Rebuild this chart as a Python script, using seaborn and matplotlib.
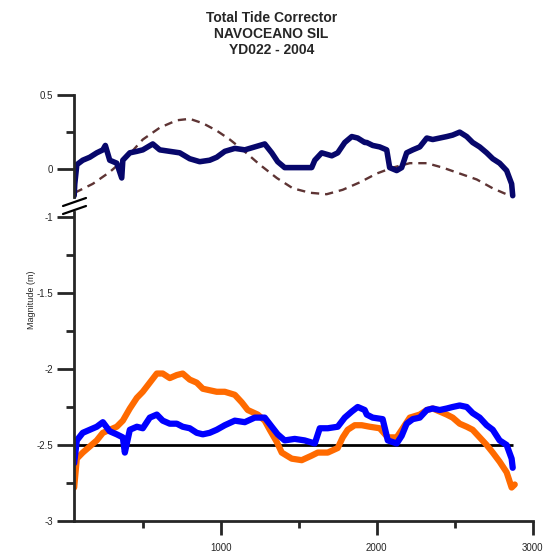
import matplotlib
matplotlib.use("Agg")
import matplotlib.pyplot as plt
from matplotlib.lines import Line2D
import seaborn as sns

sns.set_style("ticks")
plt.rcParams['font.family'] = ['Liberation Sans', 'DejaVu Sans']

# values
navy_x = [60, 64, 77, 115, 160, 205, 244, 260, 288, 333, 365, 372, 417, 462, 500, 564, 609,
          673, 737, 801, 865, 929, 974, 1026, 1090, 1154, 1218, 1282, 1327, 1365, 1410,
          1455, 1519, 1583, 1603, 1647, 1712, 1750, 1795, 1840, 1878, 1923, 1936, 1974,
          2019, 2064, 2083, 2128, 2160, 2192, 2231, 2276, 2321, 2359, 2404, 2449, 2487,
          2532, 2577, 2615, 2660, 2705, 2744, 2788, 2833, 2865, 2872]
navy_y = [-0.18, -0.10, 0.03, 0.06, 0.08, 0.11, 0.13, 0.16, 0.06, 0.04, -0.06, 0.06, 0.11,
          0.12, 0.13, 0.17, 0.13, 0.12, 0.11, 0.07, 0.05, 0.06, 0.08, 0.12, 0.14, 0.13,
          0.15, 0.17, 0.11, 0.05, 0.01, 0.01, 0.01, 0.01, 0.06, 0.11, 0.09, 0.11, 0.18,
          0.22, 0.21, 0.18, 0.18, 0.16, 0.15, 0.13, 0.01, -0.01, 0.01, 0.11, 0.13, 0.15,
          0.21, 0.20, 0.21, 0.22, 0.23, 0.25, 0.22, 0.18, 0.15, 0.11, 0.07, 0.04, -0.01,
          -0.10, -0.18]

model_x = [64, 179, 288, 397, 500, 609, 718, 801, 885, 974, 1058, 1141, 1250, 1359, 1462,
           1571, 1679, 1782, 1891, 2000, 2103, 2212, 2321, 2423, 2532, 2641, 2744, 2853]
model_y = [-0.16, -0.10, -0.02, 0.08, 0.20, 0.28, 0.33, 0.34, 0.31, 0.26, 0.20, 0.13, 0.03,
           -0.06, -0.13, -0.16, -0.17, -0.14, -0.09, -0.03, 0.01, 0.04, 0.04, 0.01, -0.03,
           -0.07, -0.13, -0.18]

orange_x = [60, 77, 115, 160, 205, 244, 288, 333, 372, 417, 462, 500, 545, 590, 628, 673,
            718, 756, 801, 846, 885, 929, 974, 1026, 1090, 1135, 1173, 1237, 1282, 1314,
            1359, 1391, 1455, 1519, 1583, 1622, 1686, 1750, 1782, 1814, 1859, 1904, 1955,
            2019, 2071, 2128, 2167, 2212, 2276, 2321, 2359, 2404, 2449, 2487, 2532, 2577,
            2615, 2660, 2705, 2744, 2788, 2833, 2865, 2885]
orange_y = [-2.78, -2.59, -2.55, -2.51, -2.47, -2.42, -2.40, -2.38, -2.34, -2.26, -2.19,
            -2.15, -2.09, -2.03, -2.03, -2.06, -2.04, -2.03, -2.07, -2.09, -2.13, -2.14,
            -2.15, -2.15, -2.17, -2.22, -2.27, -2.30, -2.34, -2.40, -2.48, -2.55, -2.59,
            -2.60, -2.57, -2.55, -2.55, -2.52, -2.45, -2.40, -2.37, -2.37, -2.38, -2.39,
            -2.45, -2.45, -2.39, -2.32, -2.30, -2.27, -2.26, -2.28, -2.30, -2.32, -2.36,
            -2.38, -2.40, -2.45, -2.50, -2.55, -2.61, -2.68, -2.78, -2.76]

blue_x = [60, 77, 115, 160, 205, 244, 288, 333, 372, 385, 417, 462, 500, 545, 590, 628, 673,
          718, 756, 801, 846, 885, 929, 974, 1026, 1090, 1154, 1218, 1282, 1327, 1365,
          1410, 1474, 1538, 1603, 1635, 1686, 1750, 1795, 1840, 1878, 1923, 1936, 1974,
          2038, 2071, 2128, 2160, 2192, 2231, 2276, 2321, 2359, 2404, 2449, 2487, 2532,
          2577, 2615, 2660, 2705, 2744, 2788, 2833, 2865, 2872]
blue_y = [-2.62, -2.47, -2.42, -2.40, -2.38, -2.35, -2.41, -2.43, -2.45, -2.55, -2.40,
          -2.38, -2.39, -2.32, -2.30, -2.34, -2.36, -2.36, -2.38, -2.39, -2.42, -2.43,
          -2.42, -2.40, -2.37, -2.34, -2.35, -2.32, -2.32, -2.38, -2.43, -2.47, -2.46,
          -2.47, -2.49, -2.39, -2.39, -2.38, -2.32, -2.28, -2.25, -2.27, -2.30, -2.32,
          -2.33, -2.47, -2.49, -2.44, -2.36, -2.33, -2.32, -2.27, -2.26, -2.27, -2.26,
          -2.25, -2.24, -2.25, -2.29, -2.32, -2.37, -2.40, -2.47, -2.50, -2.59, -2.65]

ref_level = -2.5

top_ticks = [0, 0.5]
top_labels = ["0", "0.5"]
bot_ticks = [-3, -2.5, -2, -1.5, -1]
bot_labels = ["-3", "-2.5", "-2", "-1.5", "-1"]
x_ticks = [1000, 2000, 3000]

fig = plt.figure(figsize=(5.43, 5.52), dpi=100)
ax_top = fig.add_axes([0.136, 0.6286, 0.845, 0.199])
ax_bot = fig.add_axes([0.136, 0.0562, 0.845, 0.5725])

sns.lineplot(x=model_x, y=model_y, ax=ax_top, color="#5e3434", lw=1.7,
             linestyle=(0, (3.5, 2.5)), estimator=None, sort=False)
sns.lineplot(x=navy_x, y=navy_y, ax=ax_top, color="#07076b", lw=4,
             estimator=None, sort=False)

ax_bot.hlines(ref_level, blue_x[0], blue_x[-1], color="black", lw=2, zorder=1)
sns.lineplot(x=orange_x, y=orange_y, ax=ax_bot, color="#ff6a00", lw=4.5,
             estimator=None, sort=False)
sns.lineplot(x=blue_x, y=blue_y, ax=ax_bot, color="#0000ff", lw=4.5,
             estimator=None, sort=False)

for ax in (ax_top, ax_bot):
    ax.set_xlim(58, 3000)
    ax.spines["top"].set_visible(False)
    ax.spines["right"].set_visible(False)
    ax.spines["left"].set_linewidth(2)
    ax.spines["bottom"].set_linewidth(2)
    ax.tick_params(axis="y", which="major", length=12, width=2, labelsize=7, pad=3)
    ax.tick_params(axis="y", which="minor", length=6, width=2)
    ax.set_xlabel("")
    ax.set_ylabel("")

ax_top.set_ylim(-0.243, 0.5)
ax_top.set_yticks(top_ticks)
ax_top.set_yticklabels(top_labels)
ax_top.set_yticks([0.25], minor=True)
ax_top.spines["bottom"].set_visible(False)
ax_top.spines["left"].set_bounds(-0.19, 0.5)
ax_top.set_xticks([])

ax_bot.set_ylim(-3, -0.921)
ax_bot.set_yticks(bot_ticks)
ax_bot.set_yticklabels(bot_labels)
ax_bot.set_yticks([-2.75, -2.25, -1.75, -1.25], minor=True)
ax_bot.spines["left"].set_bounds(-3, -0.97)
ax_bot.set_xticks(x_ticks)
ax_bot.set_xticklabels([str(t) for t in x_ticks])
ax_bot.set_xticks([500, 1500, 2500], minor=True)
ax_bot.tick_params(axis="x", which="major", length=10, width=2, labelsize=7, pad=6)
ax_bot.tick_params(axis="x", which="minor", length=5, width=2)

# axis break marks
W, H = 543.0, 552.0
for y0 in (206, 214):
    fig.add_artist(Line2D([63 / W, 86 / W], [1 - y0 / H, 1 - (y0 - 8) / H],
                          color="black", lw=1.6))

fig.text(0.5, 1 - 11 / H, "Total Tide Corrector\nNAVOCEANO SIL\nYD022 - 2004",
         ha="center", va="top", fontsize=10, fontweight="bold", linespacing=1.2)
fig.text(31 / W, 1 - 300 / H, "Magnitude (m)", rotation=90, ha="center", va="center",
         fontsize=6.5)

fig.savefig("out.png", dpi=100)
